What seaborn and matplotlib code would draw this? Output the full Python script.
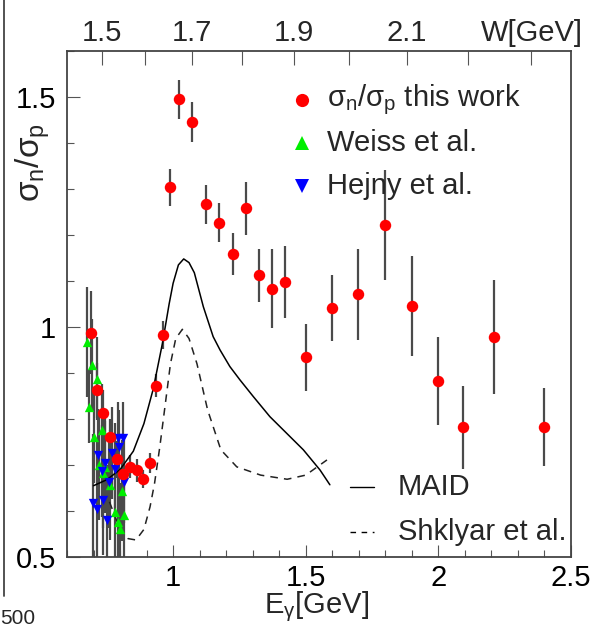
import numpy as np
import pandas as pd
import matplotlib
matplotlib.use("Agg")
import matplotlib.pyplot as plt
from matplotlib.lines import Line2D
from matplotlib.ticker import MultipleLocator, FixedLocator, NullFormatter
import seaborn as sns

# ---------------- data ----------------
# this work (sigma_n / sigma_p)
work_E = [0.689, 0.714, 0.737, 0.762, 0.787, 0.812, 0.837, 0.863, 0.885, 0.913,
          0.935, 0.963, 0.988, 1.023, 1.072, 1.123, 1.173, 1.225, 1.275, 1.324,
          1.374, 1.423, 1.500, 1.598, 1.698, 1.799, 1.899, 1.998, 2.092, 2.211, 2.398]
work_r = [0.988, 0.862, 0.814, 0.760, 0.712, 0.680, 0.696, 0.689, 0.669, 0.705,
          0.872, 0.983, 1.304, 1.495, 1.446, 1.267, 1.227, 1.159, 1.258, 1.112,
          1.083, 1.098, 0.934, 1.041, 1.071, 1.222, 1.046, 0.883, 0.782, 0.979, 0.783]
work_err = [0.09, 0.06, 0.05, 0.04, 0.04, 0.03, 0.025, 0.025, 0.02, 0.022,
            0.025, 0.03, 0.04, 0.043, 0.044, 0.042, 0.042, 0.045, 0.058, 0.057,
            0.086, 0.079, 0.073, 0.072, 0.099, 0.12, 0.109, 0.095, 0.09, 0.124, 0.085]

# Weiss et al.
weiss_E = [0.674, 0.684, 0.695, 0.703, 0.712, 0.722, 0.731, 0.737, 0.743, 0.762,
           0.781, 0.793, 0.800, 0.806, 0.815]
weiss_r = [0.968, 0.827, 0.917, 0.760, 0.888, 0.700, 0.776, 0.682, 0.696, 0.657,
           0.598, 0.577, 0.560, 0.644, 0.591]
weiss_err = [0.12, 0.08, 0.10, 0.10, 0.09, 0.12, 0.10, 0.12, 0.10, 0.12,
             0.12, 0.10, 0.10, 0.11, 0.10]

# Hejny et al.
hejny_E = [0.699, 0.712, 0.718, 0.731, 0.737, 0.743, 0.749, 0.759, 0.768, 0.781,
           0.793, 0.797, 0.810, 0.815]
hejny_r = [0.617, 0.604, 0.722, 0.686, 0.625, 0.704, 0.580, 0.664, 0.727, 0.691,
           0.758, 0.740, 0.758, 0.664]
hejny_err = [0.15, 0.15, 0.10, 0.10, 0.12, 0.10, 0.12, 0.10, 0.10, 0.10,
             0.08, 0.08, 0.08, 0.09]

# MAID model
maid_E = [0.70, 0.75, 0.80, 0.85, 0.89, 0.925, 0.96, 0.985, 1.00, 1.02, 1.04,
          1.06, 1.08, 1.114, 1.151, 1.177, 1.214, 1.252, 1.302, 1.365, 1.428,
          1.491, 1.554, 1.591]
maid_r = [0.655, 0.668, 0.69, 0.73, 0.79, 0.865, 0.965, 1.05, 1.095, 1.135, 1.148,
          1.140, 1.118, 1.044, 0.979, 0.950, 0.914, 0.885, 0.849, 0.805, 0.769,
          0.733, 0.689, 0.657]

# Shklyar et al.
shk_E = [0.76, 0.80, 0.83, 0.86, 0.89, 0.913, 0.93, 0.95, 0.97, 0.99, 1.01,
         1.035, 1.06, 1.09, 1.13, 1.18, 1.24, 1.33, 1.43, 1.50, 1.58]
shk_r = [0.62, 0.56, 0.54, 0.537, 0.56, 0.609, 0.66, 0.74, 0.83, 0.92, 0.975,
         0.995, 0.975, 0.92, 0.82, 0.733, 0.696, 0.678, 0.669, 0.678, 0.711]

x_ticks = [1, 1.5, 2, 2.5]
x_tick_labels = ["1", "1.5", "2", "2.5"]
y_ticks = [0.5, 1, 1.5]
y_tick_labels = ["0.5", "1", "1.5"]
w_major = [1.5, 1.7, 1.9, 2.1, 2.3]
w_minor = [1.6, 1.8, 2.0, 2.2]
w_labels = ["1.5", "1.7", "1.9", "2.1", "W[GeV]"]

leg_points = [r"$\mathrm{\sigma_{n}/\sigma_{p}}$ this work", "Weiss et al.", "Hejny et al."]
leg_curves = ["MAID", "Shklyar et al."]

# ---------------- style ----------------
sns.set_theme(style="ticks")
plt.rcParams["font.family"] = ["Liberation Sans", "DejaVu Sans"]
plt.rcParams["mathtext.fontset"] = "custom"
plt.rcParams["mathtext.rm"] = "Liberation Sans"
plt.rcParams["mathtext.it"] = "Liberation Sans:italic"
plt.rcParams["mathtext.sf"] = "Liberation Sans"

FS = 21
EC = "#4a4a4a"
RED, GREEN, BLUE = "#ff0000", "#00ee00", "#0000ff"

W, H = 592, 629
fig = plt.figure(figsize=(W / 100, H / 100), dpi=100)
ax = fig.add_axes([67 / W, 1 - 557 / H, 504 / W, 506 / H])

df_work = pd.DataFrame({"E": work_E, "r": work_r, "err": work_err})
df_weiss = pd.DataFrame({"E": weiss_E, "r": weiss_r, "err": weiss_err})
df_hejny = pd.DataFrame({"E": hejny_E, "r": hejny_r, "err": hejny_err})
df_maid = pd.DataFrame({"E": maid_E, "r": maid_r})
df_shk = pd.DataFrame({"E": shk_E, "r": shk_r})

# error bars
for d in (df_weiss, df_hejny, df_work):
    ax.errorbar(d["E"], d["r"], yerr=d["err"], fmt="none", ecolor=EC,
                elinewidth=1.6, capsize=0, zorder=2)

# model curves
sns.lineplot(data=df_maid, x="E", y="r", ax=ax, color="black", lw=1.1,
             sort=False, estimator=None, zorder=3)
sns.lineplot(data=df_shk, x="E", y="r", ax=ax, color="#222222", lw=1.1,
             sort=False, estimator=None, zorder=3)
ax.lines[-1].set_linestyle((0, (5, 4)))

# markers
sns.scatterplot(data=df_weiss, x="E", y="r", ax=ax, marker="^", color=GREEN,
                s=45, linewidth=0, zorder=4)
sns.scatterplot(data=df_hejny, x="E", y="r", ax=ax, marker="v", color=BLUE,
                s=45, linewidth=0, zorder=4)
sns.scatterplot(data=df_work, x="E", y="r", ax=ax, marker="o", color=RED,
                s=68, linewidth=0, zorder=5)

# axes
ax.set_xlim(0.6, 2.5)
ax.set_ylim(0.5, 1.6)
ax.set_xlabel("")
ax.set_ylabel("")
ax.xaxis.set_major_locator(FixedLocator(x_ticks))
ax.set_xticklabels(x_tick_labels)
ax.xaxis.set_minor_locator(MultipleLocator(0.1))
ax.yaxis.set_major_locator(FixedLocator(y_ticks))
ax.set_yticklabels(y_tick_labels)
ax.yaxis.set_minor_locator(MultipleLocator(0.1))
ax.tick_params(axis="both", which="both", direction="in", color="#555555",
               labelsize=FS, labelcolor="black")
ax.tick_params(axis="x", which="major", length=9, width=0.8, pad=5)
ax.tick_params(axis="x", which="minor", length=5, width=0.8)
ax.tick_params(axis="y", which="major", length=9, width=0.8, pad=8)
ax.tick_params(axis="y", which="minor", length=5, width=0.8)
for s in ax.spines.values():
    s.set_color("#444444")
    s.set_linewidth(1.3)

# top W axis
MP = 0.938
def e2w(e):
    e = np.asarray(e, dtype=float)
    return np.sqrt(np.clip(MP**2 + 2 * MP * e, 1e-6, None))
def w2e(w):
    w = np.asarray(w, dtype=float)
    return (w**2 - MP**2) / (2 * MP)

sec = ax.secondary_xaxis("top", functions=(e2w, w2e))
sec.xaxis.set_major_locator(FixedLocator(w_major))
sec.set_xticklabels(w_labels)
sec.xaxis.set_minor_locator(FixedLocator(w_minor))
sec.xaxis.set_minor_formatter(NullFormatter())
sec.tick_params(axis="x", which="both", direction="in", color="#555555",
                labelsize=FS)
sec.tick_params(axis="x", which="major", length=10, width=0.8, pad=3)
sec.tick_params(axis="x", which="minor", length=10, width=0.8)
sec.spines["top"].set_visible(False)

# axis titles
fig.text(317 / W, 1 - 613 / H, r"E$_{\mathrm{\gamma}}$[GeV]", ha="center",
         va="baseline", fontsize=FS)
fig.text(33 / W, 1 - 162 / H, r"$\mathrm{\sigma_{n}/\sigma_{p}}$", ha="center",
         va="center", rotation=90, fontsize=24)

# legend for data points (placed in axes coordinates)
def ax_xy(px, py):
    return (px - 67) / 504, (557 - py) / 506

for (lab, mk, col), py in zip(zip(leg_points, ["o", "^", "v"], [RED, GREEN, BLUE]),
                              [100, 143, 186]):
    mx, my = ax_xy(302, py)
    ax.plot([mx], [my], transform=ax.transAxes, ls="none", marker=mk, color=col,
            ms=9.5, mew=0, clip_on=False)
    tx, ty = ax_xy(327, py)
    ax.text(tx, ty, lab, transform=ax.transAxes, ha="left", va="center",
            fontsize=FS)

for lab, ls, py in zip(leg_curves, ["-", (0, (4, 4))], [487, 532]):
    x0, y0 = ax_xy(350, py)
    x1, _ = ax_xy(374, py)
    ax.plot([x0, x1], [y0, y0], transform=ax.transAxes, color="black", lw=1.0, ls=ls)
    tx, ty = ax_xy(398, py)
    ax.text(tx, ty, lab, transform=ax.transAxes, ha="left", va="center",
            fontsize=FS)

# neighbouring panel remnants on the left edge
fig.add_artist(Line2D([3.5 / W, 3.5 / W], [1.0, 1 - 596 / H],
                      transform=fig.transFigure, color="#444444", lw=1.3))
fig.text(0.5 / W, 1 - 619 / H, "500", ha="left", va="center", fontsize=15)

fig.savefig("out.png", dpi=100)
